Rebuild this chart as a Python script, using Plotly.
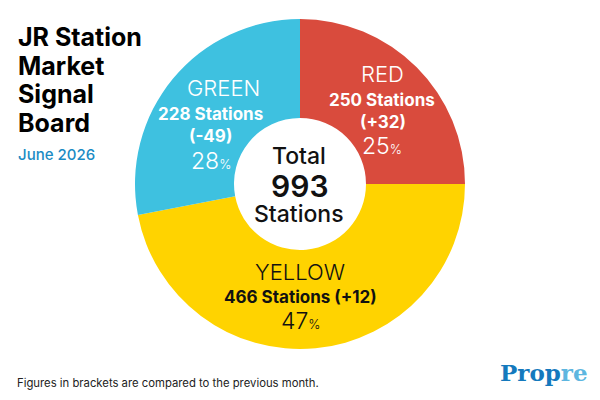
import plotly.graph_objects as go

# ---- data ----
categories = ["RED", "YELLOW", "GREEN"]
shares = [25, 47, 28]            # percent of total shown in each slice
stations = [250, 466, 228]
changes = ["+32", "+12", "-49"]
total_stations = 993
title_lines = ["JR Station", "Market", "Signal", "Board"]
subtitle = "June 2026"
footnote = "Figures in brackets are compared to the previous month."

colors = ["#D94B3D", "#FFD300", "#3EC1E0"]
W, H = 600, 400
FONT = "Inter"


def px(x, y):
    return x / W, 1 - y / H


fig = go.Figure(go.Pie(
    labels=categories, values=shares, hole=0.40, sort=False,
    direction="clockwise", rotation=0, textinfo="none",
    marker=dict(colors=colors, line=dict(width=0)),
    domain=dict(x=[135 / W, 465 / W], y=[1 - 349 / H, 1 - 19 / H]),
    showlegend=False, hoverinfo="label+value",
))

ann = []


def add(text, x, y, size, color, weight=400, xanchor="center", family=FONT):
    ax, ay = px(x, y)
    ann.append(dict(text=text, x=ax, y=ay, xref="paper", yref="paper",
                    xanchor=xanchor, yanchor="middle", showarrow=False,
                    font=dict(family=family, size=size, color=color, weight=weight)))


# slice labels positions
layouts = {
    "RED": dict(name=(382, 74), st=(382, 100), ch=(383, 122), pc=(382, 146), c="white", inline=False),
    "GREEN": dict(name=(223, 88), st=(210, 114), ch=(210, 136), pc=(211, 161), c="white", inline=False),
    "YELLOW": dict(name=(300, 272), st=(300, 297), ch=None, pc=(301, 321), c="#111111", inline=True),
}
for cat, sh, st, chg in zip(categories, shares, stations, changes):
    L = layouts[cat]
    add(cat, *L["name"], 22, L["c"], 300)
    if L["inline"]:
        add(f"{st} Stations ({chg})", *L["st"], 17, L["c"], 700)
    else:
        add(f"{st} Stations", *L["st"], 17, L["c"], 700)
        add(f"({chg})", *L["ch"], 17, L["c"], 700)
    add(f"{sh}<span style='font-size:13px'>%</span>", *L["pc"], 23, L["c"], 300)

# center text
add("Total", 299, 156, 23, "#111111", 500)
add(f"{total_stations}", 299, 186, 30, "#111111", 600)
add("Stations", 299, 214, 23, "#111111", 500)

# title
for i, line in enumerate(title_lines):
    add(line, 16, 37 + i * 28.5, 25, "#000000", 700, xanchor="left")
add(subtitle, 16, 154, 15, "#1A8BC4", 500, xanchor="left")

# footnote
add(footnote, 15, 383, 11.3, "#222222", 400, xanchor="left")

# logo
add("<span style='color:#1479BD'>Prop</span><span style='color:#5DB6E0'>re</span>",
    498, 372, 23, "#1479BD", 700, xanchor="left", family="DejaVu Serif")

fig.update_layout(
    width=W, height=H, margin=dict(l=0, r=0, t=0, b=0),
    paper_bgcolor="white", plot_bgcolor="white",
    annotations=ann,
)
fig.write_html("out.html")
